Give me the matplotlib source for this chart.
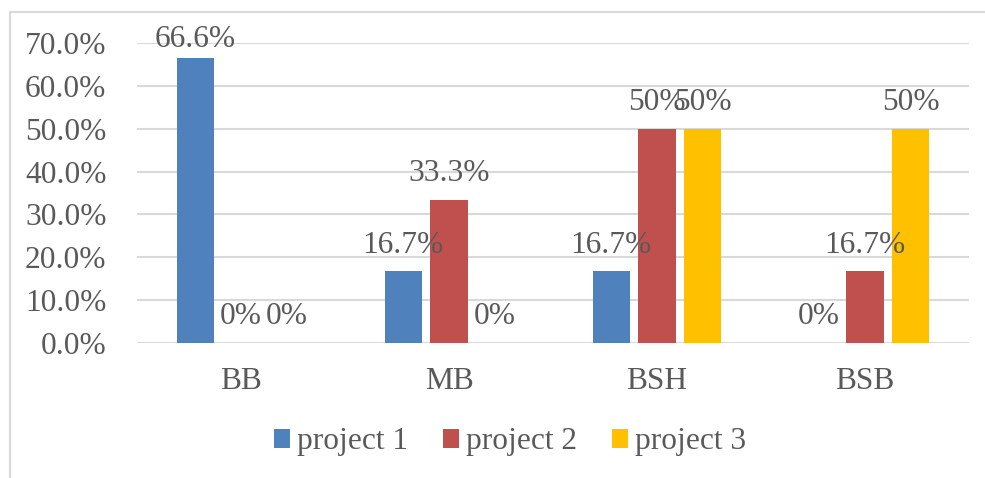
import matplotlib.pyplot as plt
import matplotlib.patches as patches
import numpy as np

categories = ['BB', 'MB', 'BSH', 'BSB']
series_names = ['project 1', 'project 2', 'project 3']
project_1 = [66.6, 16.7, 16.7, 0]
project_2 = [0, 33.3, 50, 16.7]
project_3 = [0, 0, 50, 50]
value_labels = [
    ['66.6%', '16.7%', '16.7%', '0%'],
    ['0%', '33.3%', '50%', '16.7%'],
    ['0%', '0%', '50%', '50%'],
]
y_ticks = [0, 10, 20, 30, 40, 50, 60, 70]

colors = ['#4F81BD', '#C0504D', '#FFC000']
text_color = '#595959'
grid_color = '#D9D9D9'

plt.rcParams['font.family'] = ['Liberation Serif', 'DejaVu Serif']
fs = 22.6

fig = plt.figure(figsize=(9.85, 4.78), dpi=100)
ax = fig.add_axes([137 / 985, 1 - 343 / 478, 832 / 985, 300 / 478])

# chart border (runs off the right and bottom of the image)
fig.patches.append(patches.Rectangle((10 / 985, -0.2), 1.2, 0.2 + (478 - 12) / 478,
                                     transform=fig.transFigure, fill=False,
                                     edgecolor=grid_color, linewidth=1.5, clip_on=False))

x = np.arange(len(categories))
width = 0.178
step = 0.221
all_series = [project_1, project_2, project_3]

for i, vals in enumerate(all_series):
    pos = x + (i - 1) * step
    ax.bar(pos, vals, width, color=colors[i], label=series_names[i], zorder=3)
    for p, v, lab in zip(pos, vals, value_labels[i]):
        # Excel pushes labels down so they stay inside the chart
        ly = min(v + 4.4, 69.1)
        ax.text(p, ly, lab, ha='center', va='baseline', fontsize=fs,
                color=text_color, zorder=4)

ax.set_xlim(-0.5, len(categories) - 0.5)
ax.set_ylim(0, 70)
ax.set_yticks(y_ticks)
ax.set_yticklabels(['%.1f%%' % t for t in y_ticks], fontsize=fs, color=text_color)
ax.set_xticks(x)
ax.set_xticklabels(categories, fontsize=fs, color=text_color)
ax.tick_params(axis='y', length=0, pad=22)
ax.tick_params(axis='x', length=0, pad=17)
ax.grid(axis='y', color=grid_color, linewidth=1.5, zorder=0)
for s in ax.spines.values():
    s.set_visible(False)

fig.legend(loc='center', bbox_to_anchor=(510 / 985, 1 - 442 / 478), ncol=3,
           frameon=False, fontsize=fs, handlelength=0.52, handleheight=0.52,
           handletextpad=0.23, columnspacing=1.1, labelcolor=text_color)

plt.savefig('out.png', dpi=100)
